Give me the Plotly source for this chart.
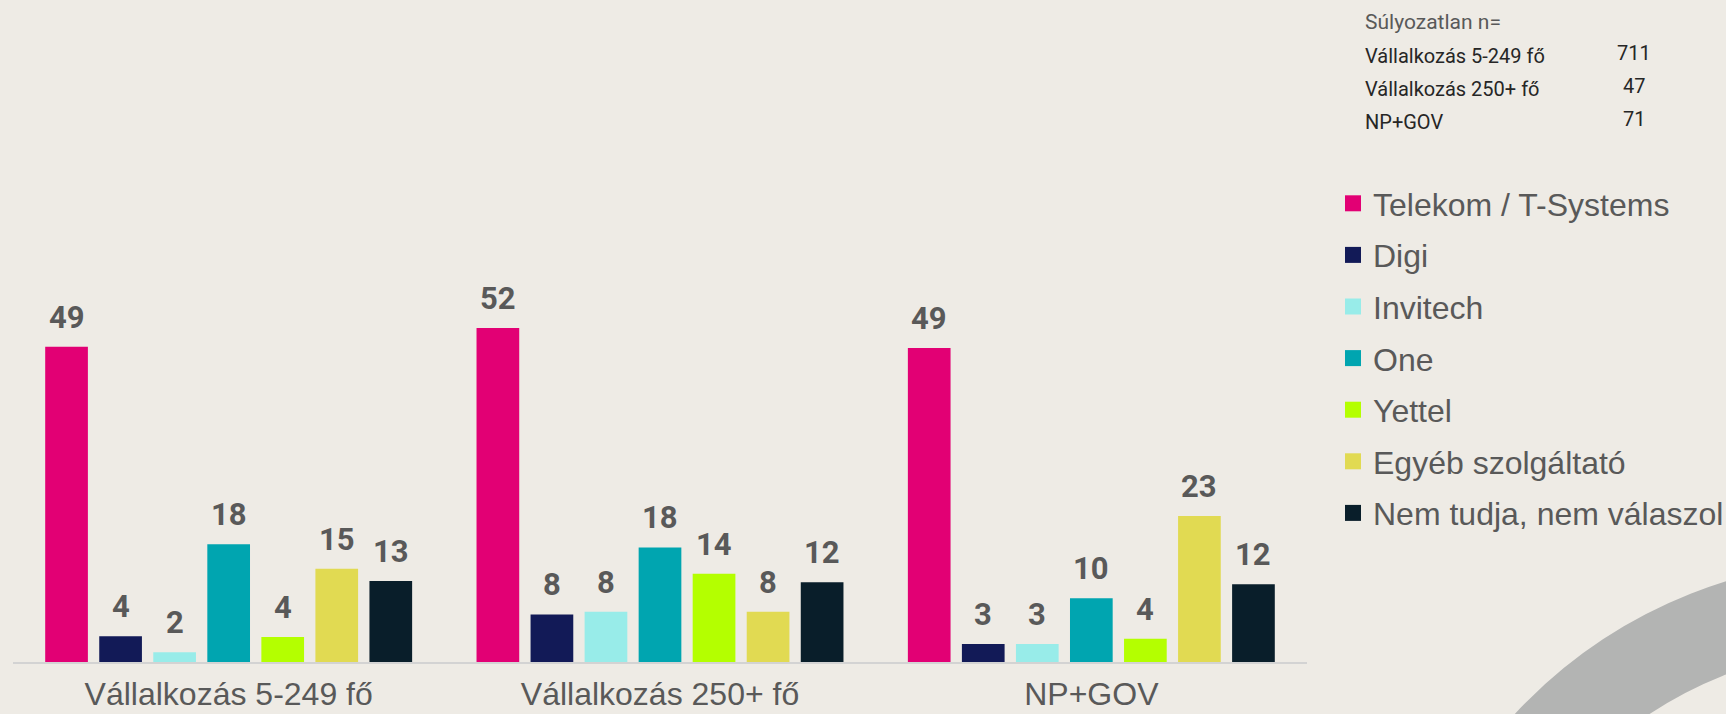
import plotly.graph_objects as go

categories = ["Vállalkozás 5-249 fő", "Vállalkozás 250+ fő", "NP+GOV"]
series_names = ["Telekom / T-Systems", "Digi", "Invitech", "One", "Yettel",
                "Egyéb szolgáltató", "Nem tudja, nem válaszol"]
telekom = [49.0, 51.9, 48.8]
digi = [4.0, 7.4, 2.8]
invitech = [1.5, 7.8, 2.8]
one = [18.3, 17.8, 9.9]
yettel = [3.9, 13.7, 3.6]
egyeb = [14.5, 7.8, 22.7]
nem_tudja = [12.6, 12.4, 12.1]
telekom_lbl = ["49", "52", "49"]
digi_lbl = ["4", "8", "3"]
invitech_lbl = ["2", "8", "3"]
one_lbl = ["18", "18", "10"]
yettel_lbl = ["4", "14", "4"]
egyeb_lbl = ["15", "8", "23"]
nem_tudja_lbl = ["13", "12", "12"]
colors = ["#E20074", "#121A57", "#98ECE9", "#00A5B0", "#B4FF00", "#E1DA52", "#091E2A"]

sample_title = "Súlyozatlan n="
sample_groups = ["Vállalkozás 5-249 fő", "Vállalkozás 250+ fő", "NP+GOV"]
sample_n = ["711", "47", "71"]

values = [telekom, digi, invitech, one, yettel, egyeb, nem_tudja]
labels = [telekom_lbl, digi_lbl, invitech_lbl, one_lbl, yettel_lbl, egyeb_lbl, nem_tudja_lbl]

W, H = 1726, 714
ML, MR, MT, MB = 13, 419, 276, 52
PW, PH = W - ML - MR, H - MT - MB
BARGAP, BARGROUPGAP = 0.123, 0.21
nser = len(series_names)
slot = PW / len(categories) * (1 - BARGAP) / nser

fig = go.Figure()
for i, name in enumerate(series_names):
    fig.add_trace(go.Bar(
        x=categories, y=values[i], name=name,
        marker=dict(color=colors[i], line=dict(width=0)),
        cliponaxis=False, showlegend=False, hoverinfo="skip",
    ))
# legend entries
for i, name in enumerate(series_names):
    fig.add_trace(go.Scatter(
        x=[None], y=[None], mode="markers", name=name,
        marker=dict(symbol="square", size=16, color=colors[i]),
        legendgroup=name, showlegend=True,
    ))

def px_x(px):
    return (px - ML) / PW

def px_y(py):
    return (H - MB - py) / PH

annotations = []
# data labels above each bar
for i in range(nser):
    for c, cat in enumerate(categories):
        annotations.append(dict(
            x=cat, y=values[i][c], xref="x", yref="y", text=labels[i][c],
            xshift=(i - (nser - 1) / 2) * slot, yshift=9,
            xanchor="center", yanchor="bottom", showarrow=False,
            font=dict(family="Roboto", size=31, color="#595959", weight="bold")))

annotations.append(dict(text=sample_title, x=px_x(1363), y=px_y(22), xref="paper", yref="paper",
                        xanchor="left", yanchor="middle", showarrow=False,
                        font=dict(family="Roboto", size=21, color="#595959")))
for k, (g, n) in enumerate(zip(sample_groups, sample_n)):
    yy = 56 + k * 33
    annotations.append(dict(text=g, x=px_x(1363), y=px_y(yy), xref="paper", yref="paper",
                            xanchor="left", yanchor="middle", showarrow=False,
                            font=dict(family="Roboto", size=20, color="#262626")))
    annotations.append(dict(text=n, x=px_x(1634), y=px_y(yy - 3), xref="paper", yref="paper",
                            xanchor="center", yanchor="middle", showarrow=False,
                            font=dict(family="Roboto", size=20, color="#262626")))

# decorative grey ring at bottom right
cx, cy, r, lw = 1868, 1042, 438, 88
shapes = [dict(type="circle", xref="paper", yref="paper",
               x0=px_x(cx - r), x1=px_x(cx + r), y0=px_y(cy + r), y1=px_y(cy - r),
               line=dict(color="#B3B4B3", width=lw), fillcolor="rgba(0,0,0,0)", layer="below")]

fig.update_layout(
    width=W, height=H,
    margin=dict(l=ML, r=MR, t=MT, b=MB, autoexpand=False),
    paper_bgcolor="#EEEBE5", plot_bgcolor="#EEEBE5",
    barmode="group", bargap=BARGAP, bargroupgap=BARGROUPGAP,
    xaxis=dict(showline=True, linecolor="#D3D3D3", linewidth=2, showgrid=False,
               tickfont=dict(family="Liberation Sans", size=32, color="#595959"),
               ticks="", ticklabelstandoff=3, automargin=False, fixedrange=True),
    yaxis=dict(range=[0, 60], visible=False, showgrid=False, zeroline=False, fixedrange=True),
    legend=dict(x=1333 / W, y=1 - 176 / H, xref="container", yref="container",
                xanchor="left", yanchor="top", bgcolor="rgba(0,0,0,0)",
                font=dict(family="Liberation Sans", size=32, color="#595959"),
                tracegroupgap=7, itemclick=False, itemdoubleclick=False),
    annotations=annotations, shapes=shapes,
    showlegend=True,
)

fig.write_html("out.html", config={"displayModeBar": False},
               post_script="document.body.style.margin='0';document.body.style.background='#EEEBE5';")
